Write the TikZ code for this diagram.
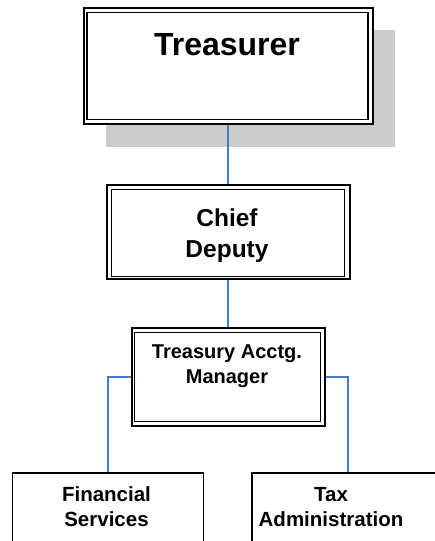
\documentclass[tikz,border=0pt]{standalone}
\usepackage{fontspec}
\setmainfont{Liberation Sans}
\begin{document}
\begin{tikzpicture}[x=1pt,y=-1pt,
  frame/.style={draw=black,line width=2pt,fill=white,inner sep=0pt,anchor=north west},
  innerframe/.style={draw=black,line width=1.4pt},
  plainbox/.style={draw=black,line width=1.8pt,fill=white,inner sep=0pt,anchor=north west},
  boxtext/.style={inner sep=0pt,align=center,anchor=base},
  link/.style={draw={rgb,255:red,74;green,124;blue,196},line width=1.6pt},
  shadow/.style={fill={rgb,255:red,204;green,204;blue,204},draw=none}]
\useasboundingbox (0,0) rectangle (435,541);
\clip (0,0) rectangle (435,541);

% drop shadow behind the top box
\fill[shadow] (106,30) rectangle (395,146.7);

% boxes (outer frames)
\node[frame,minimum width=289pt,minimum height=116pt] (treas) at (82.5,6.7) {};
\node[frame,minimum width=243pt,minimum height=94pt] (chief) at (105.5,184.3) {};
\node[frame,minimum width=193pt,minimum height=97.7pt] (mgr) at (130.5,327.3) {};
\node[plainbox,minimum width=191pt,minimum height=100pt] (fin) at (11.5,472.3) {};
\node[plainbox,minimum width=192pt,minimum height=100pt] (tax) at (251,472.3) {};

% inner lines of the double frames
\draw[innerframe] ([shift={(4.6,5.6)}]treas.north west) rectangle ([shift={(-5.7,-5.4)}]treas.south east);
\draw[innerframe] ([shift={(6,5)}]chief.north west) rectangle ([shift={(-6,-4)}]chief.south east);
\draw[innerframe] ([shift={(4,5.4)}]mgr.north west) rectangle ([shift={(-5,-5.7)}]mgr.south east);

% titles (base anchor sits on the last line)
\node[boxtext,font=\bfseries\fontsize{32}{36}\selectfont] (ttreas) at (227,55) {Treasurer};
\node[boxtext,font=\bfseries\fontsize{24.5}{31}\selectfont] (tchief) at (227,257) {Chief\\Deputy};
\node[boxtext,font=\bfseries\fontsize{20}{25}\selectfont] (tmgr) at (227,383.3) {Treasury Acctg.\\Manager};
\node[boxtext,font=\bfseries\fontsize{20.5}{25}\selectfont] (tfin) at (106.5,526.7) {Financial\\Services};
\node[boxtext,font=\bfseries\fontsize{20.5}{25}\selectfont] (ttax) at (331,526.7) {Tax\\Administration};

% reporting lines
\draw[link] (treas.south) -- (chief.north);
\draw[link] (chief.south) -- (mgr.north);
\draw[link] (mgr.west) -| (fin.north);
\draw[link] (mgr.east) -| (tax.north);
\end{tikzpicture}
\end{document}
